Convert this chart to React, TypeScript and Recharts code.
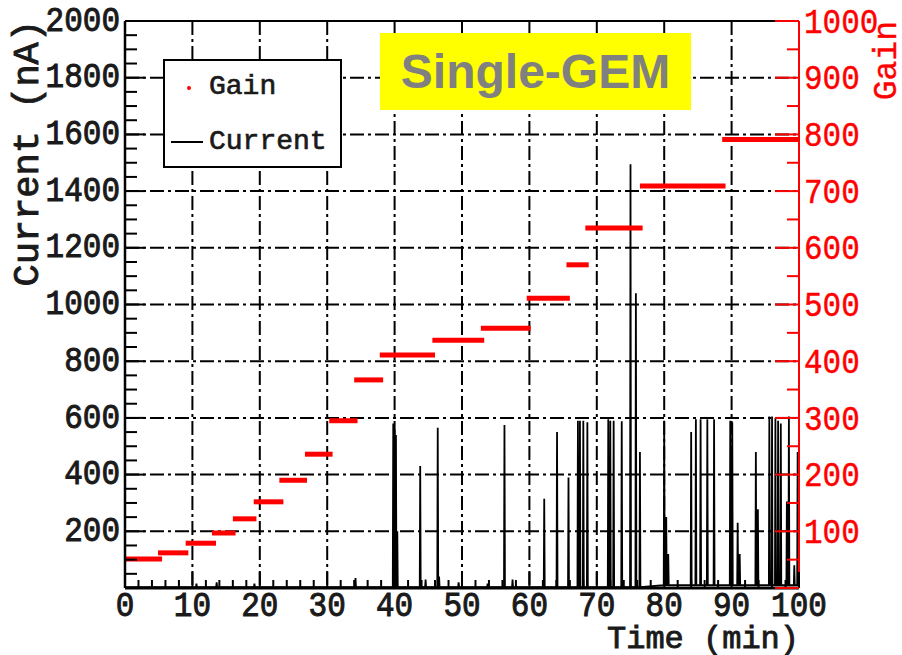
import React from "react"
import { ComposedChart, Line, XAxis, YAxis, CartesianGrid, ReferenceLine } from "recharts"

// gain plateaus (red): start/end time in min, gain level
const gainStart = [0, 4.9, 9.0, 12.9, 16.0, 19.1, 22.9, 26.7, 30.3, 34.0, 37.8, 45.6, 52.8, 59.6, 65.5, 68.3, 76.4, 88.6]
const gainEnd = [5.5, 9.4, 13.5, 16.4, 19.5, 23.5, 27.0, 30.8, 34.5, 38.3, 46.0, 53.3, 60.2, 66.0, 68.8, 76.8, 89.1, 100]
const gainLevel = [51, 62, 79, 97, 122, 152, 190, 236, 295, 367, 411, 437, 458, 511, 570, 635, 709, 791]

// current discharges (black spikes): time in min, peak in nA
const spikeTime = [10.6, 13.6, 19.2, 34.2, 39.8, 40.0, 40.2, 40.4, 43.8, 44.6, 46.4, 46.6, 49.5, 53.8, 56.3, 57.5, 62.2, 64.1, 65.8, 67.2, 67.5, 68.0, 68.6, 71.7, 72.0, 72.5, 73.7, 75.0, 75.8, 76.4, 80.0, 80.3, 80.6, 84.0, 84.7, 85.4, 86.4, 87.4, 89.8, 90.1, 90.9, 91.2, 93.6, 93.9, 95.6, 96.0, 96.5, 96.9, 97.3, 98.2, 98.5, 99.3, 99.8]
const spikePeak = [15, 20, 15, 35, 580, 560, 540, 200, 430, 30, 565, 40, 20, 15, 575, 30, 315, 550, 390, 590, 590, 590, 585, 595, 590, 590, 588, 1495, 1040, 480, 590, 250, 120, 550, 595, 595, 595, 595, 590, 585, 230, 120, 480, 278, 605, 605, 600, 590, 580, 305, 605, 80, 480]
// baseline level of the current trace (nA) from a given time on
const baseTime = [0, 80]
const baseLevel = [3, 10]

const xLabels = [0, 10, 20, 30, 40, 50, 60, 70, 80, 90, 100]
const currentLabels = [200, 400, 600, 800, 1000, 1200, 1400, 1600, 1800, 2000]
const gainLabels = [100, 200, 300, 400, 500, 600, 700, 800, 900, 1000]

const mono = "'Liberation Mono', 'DejaVu Sans Mono', monospace"
const RED = "#ff0000"
const INK = "#1a1a1a"

const baseAt = (t: number) => {
  let b = baseLevel[0]
  baseTime.forEach((bt, i) => {
    if (t >= bt) b = baseLevel[i]
  })
  return b
}

const currentData: { t: number; c: number }[] = [{ t: 0, c: baseAt(0) }]
spikeTime.forEach((t, i) => {
  currentData.push({ t: t - 0.07, c: baseAt(t) }, { t, c: spikePeak[i] }, { t: t + 0.07, c: baseAt(t) })
})
currentData.push({ t: 100, c: baseAt(100) })

const gainSegments = gainStart.map((s, i) => [
  { t: s, g: gainLevel[i] },
  { t: gainEnd[i], g: gainLevel[i] },
])

const xTicks = Array.from({ length: 51 }, (_, i) => i * 2)
const currentTicks = Array.from({ length: 41 }, (_, i) => i * 50)
const gainTicks = Array.from({ length: 21 }, (_, i) => i * 50)

const labelStyle = { fontFamily: mono, fontSize: 31, fill: INK, stroke: INK, strokeWidth: 0.9 }

const XTick = ({ x, y, payload }: any) => {
  const v = payload.value
  const major = xLabels.includes(v)
  return (
    <g>
      <line x1={x} x2={x} y1={y} y2={y - (major ? 16 : 8)} stroke="#000" strokeWidth={2} />
      {major && (
        <text transform={`translate(${x},${y + 18}) scale(1,1.15)`} textAnchor="middle" dominantBaseline="central"
          {...labelStyle}>{v}</text>
      )}
    </g>
  )
}

const CurrentTick = ({ x, y, payload }: any) => {
  const v = payload.value
  const major = v % 200 === 0
  return (
    <g>
      <line x1={x} x2={x + (major ? 20 : 12)} y1={y} y2={y} stroke="#000" strokeWidth={2} />
      {currentLabels.includes(v) && (
        <text transform={`translate(${x - 5},${y}) scale(1,1.15)`} textAnchor="end" dominantBaseline="central"
          {...labelStyle}>{v}</text>
      )}
    </g>
  )
}

const GainTick = ({ x, y, payload }: any) => {
  const v = payload.value
  const major = v % 100 === 0
  return (
    <g>
      <line x1={x} x2={x - (major ? 24 : 12)} y1={y} y2={y} stroke={RED} strokeWidth={2} />
      {gainLabels.includes(v) && (
        <text transform={`translate(${x + 5},${y + 2}) scale(1,1.15)`} textAnchor="start" dominantBaseline="central"
          {...labelStyle} fill={RED} stroke={RED} strokeWidth={0.4}>{v}</text>
      )}
    </g>
  )
}

export default function App() {
  return (
    <div style={{ position: "absolute", left: 0, top: 0, width: 902, height: 655, background: "#fff" }}>
      <ComposedChart width={902} height={655} margin={{ top: 21, right: 0, bottom: 0, left: 0 }}>
        <CartesianGrid yAxisId="left" horizontalValues={[200, 400, 600, 800, 1000, 1200, 1400, 1600, 1800]}
          verticalValues={[10, 20, 30, 40, 50, 60, 70, 80, 90]} stroke="#000" strokeWidth={2} strokeDasharray="14 4 3 4" />
        <XAxis type="number" dataKey="t" domain={[0, 100]} ticks={xTicks} interval={0} height={67}
          tickSize={0} tickMargin={0} tick={<XTick />} stroke="#000" strokeWidth={3}
          label={{ content: ({ viewBox }: any) => (
            <text x={viewBox.x + viewBox.width} y={viewBox.y + 51} textAnchor="end" dominantBaseline="central"
              {...labelStyle} fontSize={32}>Time (min)</text>
          ) }} />
        <YAxis yAxisId="left" type="number" domain={[0, 2000]} ticks={currentTicks} interval={0} width={125}
          allowDataOverflow tickSize={0} tickMargin={0} tick={<CurrentTick />} stroke="#000" strokeWidth={2.5}
          label={{ content: ({ viewBox }: any) => (
            <text transform={`translate(${viewBox.x + 28},${viewBox.y - 1}) rotate(-90)`} textAnchor="end" dominantBaseline="central"
              {...labelStyle} fontSize={37}>Current (nA)</text>
          ) }} />
        <YAxis yAxisId="gain" orientation="right" type="number" domain={[0, 1000]} ticks={gainTicks} interval={0}
          width={103} tickSize={0} tickMargin={0} tick={<GainTick />} stroke={RED} strokeWidth={2}
          label={{ content: ({ viewBox }: any) => (
            <text transform={`translate(${viewBox.x + 88},${viewBox.y}) rotate(-90)`} textAnchor="end" dominantBaseline="central"
              {...labelStyle} fontSize={33} fill={RED} stroke={RED} strokeWidth={0.4}>Gain</text>
          ) }} />
        <ReferenceLine yAxisId="left" y={2000} stroke="#000" strokeWidth={2} />
        <Line yAxisId="left" data={currentData} dataKey="c" type="linear" stroke="#000" strokeWidth={1.8}
          dot={false} isAnimationActive={false} />
        {gainSegments.map((seg, i) => (
          <Line key={i} yAxisId="gain" data={seg} dataKey="g" type="linear" stroke={RED} strokeWidth={5}
            dot={false} isAnimationActive={false} />
        ))}
      </ComposedChart>

      <div style={{ position: "absolute", left: 163, top: 59, width: 175, height: 105, border: "2px solid #000", background: "#fff",
        fontFamily: mono, fontSize: 28, color: INK, WebkitTextStroke: "0.7px " + INK }}>
        <div style={{ position: "absolute", left: 22, top: 25, width: 4, height: 4, background: RED, borderRadius: 2 }} />
        <div style={{ position: "absolute", left: 44, top: 9, lineHeight: "34px" }}>Gain</div>
        <div style={{ position: "absolute", left: 6, top: 80, width: 32, height: 2, background: "#000" }} />
        <div style={{ position: "absolute", left: 44, top: 64, lineHeight: "34px" }}>Current</div>
      </div>

      <div style={{ position: "absolute", left: 380, top: 33, width: 311, height: 77, background: "#ffff00",
        display: "flex", alignItems: "center", justifyContent: "center",
        fontFamily: "'Liberation Sans', Arial, sans-serif", fontWeight: "bold", fontSize: 48, color: "#808080" }}>
        Single-GEM
      </div>
    </div>
  )
}
